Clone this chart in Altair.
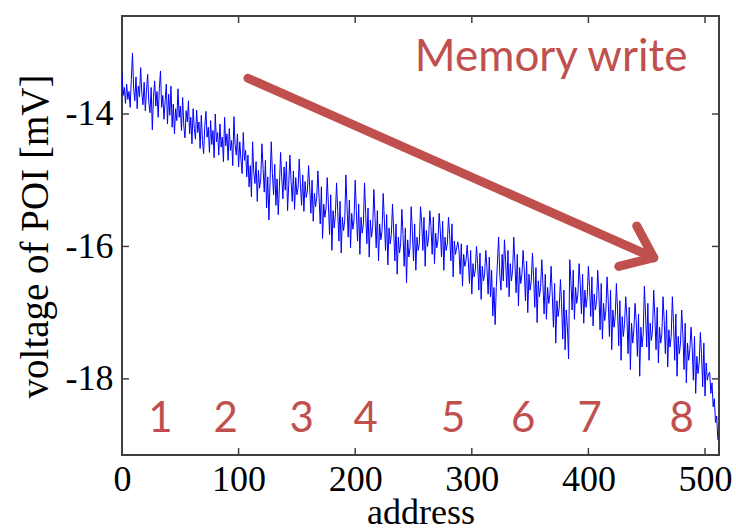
import math
import altair as alt
import pandas as pd

# Measured POI voltage (mV) for each memory address 0..511, eight addresses per row
voltage = [
    -13.38, -13.72, -13.60, -13.84, -13.55, -13.78, -13.66, -13.90,
    -13.48, -13.08, -13.62, -13.80, -13.44, -13.92, -13.58, -13.74,
    -13.30, -13.68, -13.86, -13.52, -13.95, -13.64, -13.40, -13.82,
    -13.98, -13.60, -14.24, -13.75, -13.50, -13.88, -13.66, -14.05,
    -13.62, -13.35, -13.90, -13.72, -14.08, -13.80, -13.55, -14.15,
    -13.70, -14.02, -13.58, -14.20, -13.85, -14.30, -13.92, -14.10,
    -13.62, -14.05, -13.88, -14.25, -13.75, -14.18, -14.36, -13.95,
    -14.12, -13.80, -14.30, -14.05, -14.45, -13.92, -14.22, -14.38,
    -13.94, -14.28, -14.12, -14.52, -14.02, -14.40, -14.60, -14.18,
    -13.96, -14.35, -14.20, -14.58, -14.10, -14.46, -14.25, -14.66,
    -14.00, -14.42, -14.28, -14.62, -14.15, -14.50, -14.35, -14.72,
    -14.05, -14.48, -14.30, -14.70, -14.22, -14.55, -14.40, -14.78,
    -14.04, -14.46, -14.62, -14.30, -14.80, -14.42, -14.68, -14.90,
    -14.28, -14.70, -14.55, -14.95, -14.62, -15.10, -14.78, -15.25,
    -14.42, -14.88, -15.05, -14.72, -15.32, -14.85, -15.12, -14.98,
    -14.45, -14.82, -15.18, -14.70, -15.42, -14.95, -15.60, -15.02,
    -14.42, -14.90, -15.22, -14.76, -15.38, -14.98, -15.52, -15.10,
    -14.58, -14.96, -15.28, -14.80, -15.15, -14.72, -15.46, -15.06,
    -14.62, -15.02, -15.32, -14.86, -15.44, -14.96, -15.22, -15.12,
    -14.68, -15.06, -15.38, -14.92, -15.47, -15.02, -15.26, -15.16,
    -14.78, -15.12, -15.50, -15.00, -15.62, -15.20, -15.40, -15.26,
    -14.86, -15.26, -15.66, -15.10, -15.88, -15.36, -15.56, -15.42,
    -14.96, -15.36, -15.82, -15.22, -16.06, -15.46, -15.72, -15.52,
    -15.04, -15.46, -15.92, -15.32, -16.10, -15.56, -15.76, -15.62,
    -14.92, -15.40, -15.86, -15.30, -16.02, -15.50, -15.74, -15.60,
    -15.00, -15.46, -15.92, -15.36, -16.12, -15.56, -15.80, -15.66,
    -15.04, -15.50, -15.96, -15.42, -16.16, -15.60, -15.86, -15.70,
    -15.14, -15.56, -16.02, -15.46, -16.22, -15.66, -15.90, -15.76,
    -15.20, -15.60, -16.06, -15.52, -16.28, -15.72, -15.96, -15.82,
    -15.36, -15.76, -16.22, -15.66, -16.42, -15.86, -16.10, -15.96,
    -15.44, -15.82, -16.30, -15.72, -16.55, -15.90, -16.16, -16.02,
    -15.40, -15.76, -16.22, -15.66, -16.36, -15.86, -16.06, -15.96,
    -15.40, -15.62, -16.06, -15.56, -16.30, -15.76, -16.00, -15.86,
    -15.46, -15.70, -16.12, -15.56, -16.26, -15.80, -16.02, -15.90,
    -15.50, -15.76, -16.16, -15.62, -16.36, -15.86, -16.06, -15.96,
    -15.56, -15.82, -16.22, -15.66, -16.46, -15.92, -16.12, -16.02,
    -15.93, -16.06, -16.42, -15.96, -16.60, -16.12, -16.30, -16.22,
    -15.98, -16.22, -16.56, -16.06, -16.72, -16.26, -16.46, -16.36,
    -16.00, -16.26, -16.66, -16.10, -16.80, -16.30, -16.52, -16.42,
    -16.06, -16.32, -16.72, -16.16, -16.76, -16.36, -17.05, -16.62,
    -17.18, -16.62, -16.22, -15.86, -16.42, -16.66, -16.12, -16.52,
    -15.90, -16.22, -16.62, -16.06, -16.76, -16.26, -16.52, -16.36,
    -15.86, -16.26, -16.70, -16.12, -16.90, -16.32, -16.56, -16.42,
    -16.06, -16.36, -16.82, -16.22, -17.00, -16.42, -16.66, -16.52,
    -16.10, -16.46, -16.92, -16.32, -17.15, -16.52, -16.76, -16.62,
    -16.20, -16.56, -17.02, -16.42, -17.10, -16.62, -16.86, -16.72,
    -16.30, -16.72, -17.22, -16.56, -17.46, -16.82, -17.06, -16.92,
    -16.50, -16.86, -17.40, -16.66, -17.56, -16.96, -17.22, -17.70,
    -16.20, -16.52, -16.96, -16.36, -17.10, -16.62, -16.86, -16.72,
    -16.26, -16.56, -17.02, -16.42, -17.16, -16.66, -16.92, -16.76,
    -16.30, -16.62, -17.06, -16.46, -17.20, -16.72, -16.96, -16.82,
    -16.36, -16.72, -17.26, -16.56, -17.40, -16.86, -17.12, -16.96,
    -16.46, -16.82, -17.36, -16.66, -17.56, -16.96, -17.22, -17.06,
    -16.56, -16.96, -17.50, -16.82, -17.72, -17.06, -17.36, -17.16,
    -16.76, -17.06, -17.62, -16.92, -17.86, -17.16, -17.46, -17.26,
    -16.86, -17.12, -17.66, -17.02, -17.96, -17.22, -17.52, -17.32,
    -16.60, -17.02, -17.52, -16.86, -17.72, -17.16, -17.42, -17.26,
    -16.66, -17.06, -17.56, -16.92, -17.76, -17.22, -17.46, -17.32,
    -16.76, -17.12, -17.62, -16.96, -17.82, -17.26, -17.52, -17.36,
    -16.76, -17.16, -17.72, -17.02, -17.96, -17.36, -17.62, -17.46,
    -16.96, -17.32, -17.86, -17.16, -18.06, -17.46, -17.72, -17.56,
    -17.22, -17.52, -18.02, -17.36, -18.22, -17.66, -17.92, -17.76,
    -17.30, -17.62, -18.12, -17.46, -18.26, -17.76, -18.02, -17.92,
    -17.90, -18.22, -18.06, -18.42, -18.30, -18.66, -18.56, -18.92,
]
address = list(range(len(voltage)))

x_ticks = [0, 100, 200, 300, 400, 500]
y_ticks = [-18, -16, -14]
x_domain = [0, 512]
y_domain = [-19.15, -12.52]

# Block numbers written along the bottom of the plot
block_labels = ["1", "2", "3", "4", "5", "6", "7", "8"]
block_label_x = [33, 89, 154, 209, 284, 344, 401, 480]
block_label_y = -18.8

note_text = "Memory write"
note_x = 368
note_y = -13.35
arrow_from = (108, -13.46)
arrow_to = (456, -16.17)

RED = "#C0504D"
BLUE = "#0000FF"
W, H = 597, 439

xs = alt.Scale(domain=x_domain, nice=False, zero=False)
ys = alt.Scale(domain=y_domain, nice=False, zero=False)

# One shared definition of each positional channel, reused by every layer
X = alt.X("address:Q", scale=xs,
          axis=alt.Axis(values=x_ticks, title="address", format="d",
                        labelPadding=35, labelBaseline="alphabetic",
                        labelFlush=False, titleBaseline="alphabetic",
                        titleY=68, titleFontSize=36))
Y = alt.Y("voltage:Q", scale=ys,
          axis=alt.Axis(values=y_ticks, title="voltage of POI [mV]",
                        labelPadding=9,
                        labelExpr="datum.value < 0 ? '-' + abs(datum.value) : datum.label",
                        titleX=-75, titleY=220, titleAngle=270,
                        titleBaseline="alphabetic", titleFontSize=39))

df = pd.DataFrame({"address": address, "voltage": voltage})
line = alt.Chart(df).mark_line(color=BLUE, strokeWidth=1, clip=True).encode(x=X, y=Y)

# Inward tick marks on all four sides of the box
ytick_df = pd.DataFrame({"voltage": y_ticks})
xtick_df = pd.DataFrame({"address": x_ticks})
TICK = 7
tick_style = dict(color="#404040", strokeWidth=1.5)
yt_left = alt.Chart(ytick_df).mark_rule(**tick_style).encode(
    y=Y, x=alt.value(0), x2=alt.value(TICK))
yt_right = alt.Chart(ytick_df).mark_rule(**tick_style).encode(
    y=Y, x=alt.value(W - TICK), x2=alt.value(W))
xt_bottom = alt.Chart(xtick_df).mark_rule(**tick_style).encode(
    x=X, y=alt.value(H - TICK), y2=alt.value(H))
xt_top = alt.Chart(xtick_df).mark_rule(**tick_style).encode(
    x=X, y=alt.value(0), y2=alt.value(TICK))

text_style = dict(font="Lato", color=RED, align="center", baseline="alphabetic")
blocks_df = pd.DataFrame({"address": block_label_x,
                          "voltage": [block_label_y] * len(block_labels),
                          "t": block_labels})
blocks = alt.Chart(blocks_df).mark_text(fontSize=42, **text_style).encode(x=X, y=Y, text="t:N")

note_df = pd.DataFrame({"address": [note_x], "voltage": [note_y], "t": [note_text]})
note = alt.Chart(note_df).mark_text(fontSize=44, **text_style).encode(x=X, y=Y, text="t:N")

# Arrow: shaft plus two barbs at the head, barbs sized in pixels
px_x = W / (x_domain[1] - x_domain[0])
px_y = H / (y_domain[1] - y_domain[0])
dxp = (arrow_to[0] - arrow_from[0]) * px_x
dyp = -(arrow_to[1] - arrow_from[1]) * px_y
ang = math.atan2(dyp, dxp)
barb_len, barb_ang = 36, math.radians(38)
segs = [dict(address=arrow_from[0], voltage=arrow_from[1], x2=arrow_to[0], y2=arrow_to[1])]
for s in (1, -1):
    a = ang + math.pi + s * barb_ang
    bx = arrow_to[0] + barb_len * math.cos(a) / px_x
    by = arrow_to[1] - barb_len * math.sin(a) / px_y
    segs.append(dict(address=bx, voltage=by, x2=arrow_to[0], y2=arrow_to[1]))
arrow = alt.Chart(pd.DataFrame(segs)).mark_rule(
    color=RED, strokeWidth=9, strokeCap="round"
).encode(x=X, y=Y, x2="x2:Q", y2="y2:Q")

chart = alt.layer(line, yt_left, yt_right, xt_bottom, xt_top, arrow, note, blocks).properties(
    width=W, height=H,
    autosize=alt.AutoSizeParams(type="none"),
    padding={"left": 122, "top": 16, "right": 17, "bottom": 77},
    background="white",
).configure_view(
    stroke="#404040", strokeWidth=2
).configure_axis(
    labelFont="Liberation Serif", labelFontSize=36, labelColor="black",
    titleFont="Liberation Serif", titleFontWeight="normal", titleColor="black",
    domain=False, ticks=False, tickSize=0, grid=False,
)

chart.save("out.html", embed_options={"renderer": "svg", "actions": False})
